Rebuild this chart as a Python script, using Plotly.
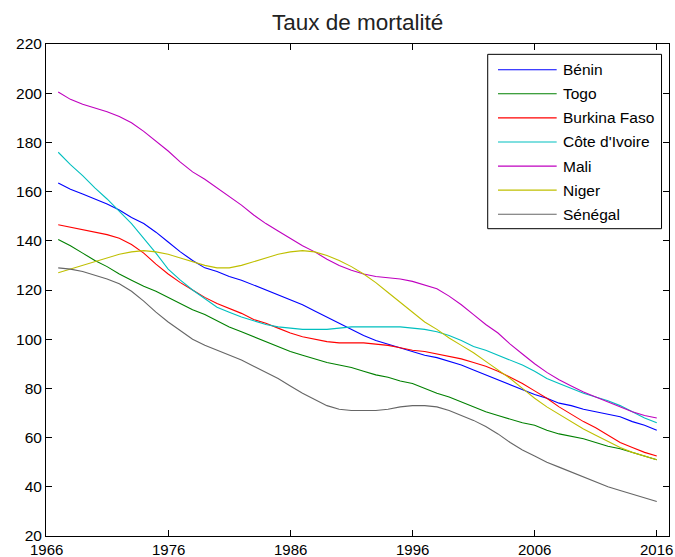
import plotly.graph_objects as go

years = list(range(1967, 2017))

benin = [163.5, 161, 159, 157, 155, 152.5, 149.5, 147, 143.5, 139.5,
         135.5, 132, 129, 127.5, 125.5, 124, 122, 120, 118, 116,
         114, 111.5, 109, 106.5, 104, 101.5, 99.5, 98, 96.5, 95,
         93.5, 92.5, 91, 89.5, 87.5, 85.5, 83.5, 81.5, 79.5, 77.5,
         76, 74, 73, 71.5, 70.5, 69.5, 68.5, 66.5, 65, 63]

togo = [140.5, 138, 135, 132, 129.5, 126.5, 124, 121.5, 119.5, 117,
        114.5, 112, 110, 107.5, 105, 103, 101, 99, 97, 95,
        93.5, 92, 90.5, 89.5, 88.5, 87, 85.5, 84.5, 83, 82,
        80, 78, 76.5, 74.5, 72.5, 70.5, 69, 67.5, 66, 65,
        63, 61.5, 60.5, 59.5, 58, 56.5, 55.5, 54, 52.5, 51]

burkina = [146.5, 145.5, 144.5, 143.5, 142.5, 141, 138.5, 135, 130.5, 126.5,
           123, 120, 117, 114.5, 112.5, 110.5, 108, 106.5, 104.5, 102.5,
           101, 100, 99, 98.5, 98.5, 98.5, 98, 97.5, 96.5, 95.5,
           95, 94, 93, 92, 90.5, 89, 87, 84.5, 82, 79,
           76, 72.5, 69.5, 66.5, 64, 61, 58, 56, 54, 52.5]

cote_ivoire = [176, 171, 166.5, 161.5, 157, 152, 147, 141, 135, 128.5,
               124, 120, 116.5, 113, 111, 109, 107.5, 106, 105, 104.5,
               104, 104, 104, 104.5, 105, 105, 105, 105, 105, 104.5,
               104, 103, 101.5, 99.5, 97, 95.5, 93.5, 91.5, 89.5, 87,
               84, 82, 80, 78, 76.5, 75, 73, 70.5, 68, 66]

mali = [200.5, 197.5, 195.5, 194, 192.5, 190.5, 188, 184.5, 180.5, 176.5,
        172, 168, 165, 161.5, 158, 154.5, 150.5, 147, 144, 141,
        138, 135.5, 132.5, 130, 128, 126.5, 125.5, 125, 124.5, 123.5,
        122, 120.5, 117.5, 114, 110, 106, 102.5, 98, 94, 90,
        86.5, 83.5, 81, 78.5, 76.5, 74.5, 72.5, 70.5, 69, 68]

niger = [127, 128.5, 130, 131.5, 133, 134.5, 135.5, 136, 135.5, 134.5,
         133, 131.5, 130, 129, 129, 130, 131.5, 133, 134.5, 135.5,
         136, 135.5, 134, 132, 129.5, 126.5, 123, 119, 115, 111,
         107, 104, 100.5, 97.5, 94.5, 91, 87.5, 84, 80, 76,
         72.5, 69.5, 66.5, 63.5, 61, 58.5, 56, 54, 52.5, 51]

senegal = [129, 128.5, 127.5, 126, 124.5, 122.5, 119.5, 115.5, 111, 107,
           103.5, 100, 97.5, 95.5, 93.5, 91.5, 89, 86.5, 84, 81,
           78, 75.5, 73, 71.5, 71, 71, 71, 71.5, 72.5, 73,
           73, 72.5, 71, 69, 67, 64.5, 61.5, 58, 55, 52.5,
           50, 48, 46, 44, 42, 40, 38.5, 37, 35.5, 34]

names = ["Bénin", "Togo", "Burkina Faso", "Côte d'Ivoire", "Mali", "Niger", "Sénégal"]
series = [benin, togo, burkina, cote_ivoire, mali, niger, senegal]
colors = ["#0000FF", "#008000", "#FF0000", "#00BFBF", "#BF00BF", "#BFBF00", "#666666"]

x_ticks = [1966, 1976, 1986, 1996, 2006, 2016]
y_ticks = [20, 40, 60, 80, 100, 120, 140, 160, 180, 200, 220]

FONT = "Liberation Sans, Arial, sans-serif"
TICK_SIZE = 15.5

fig = go.Figure()
for name, vals, col in zip(names, series, colors):
    fig.add_trace(go.Scatter(x=years, y=vals, mode="lines", name=name,
                             line=dict(color=col, width=1.1), showlegend=False))

# custom MATLAB-style legend box
lx0, lx1, ly0, ly1 = 0.709, 0.988, 0.6246, 0.979
shapes = [dict(type="rect", xref="paper", yref="paper", x0=lx0, x1=lx1, y0=ly0, y1=ly1,
               line=dict(color="black", width=1), fillcolor="white", layer="above")]
annotations = []
y_first, step = 0.9478, 0.04898
for i, (name, col) in enumerate(zip(names, colors)):
    yy = y_first - i * step
    shapes.append(dict(type="line", xref="paper", yref="paper", x0=0.7255, x1=0.8197,
                       y0=yy, y1=yy, line=dict(color=col, width=1.1), layer="above"))
    annotations.append(dict(xref="paper", yref="paper", x=0.8262, y=yy, text=name,
                            showarrow=False, xanchor="left", yanchor="middle",
                            font=dict(family=FONT, size=TICK_SIZE, color="black")))

# x tick labels placed just under the axis
for t in x_ticks:
    annotations.append(dict(xref="x", yref="paper", x=t, y=0, text=str(t),
                            showarrow=False, xanchor="center", yanchor="middle",
                            yshift=-13, font=dict(family=FONT, size=15, color="black")))

annotations.append(dict(xref="paper", yref="paper", x=0.5, y=1, yshift=22,
                        text="Taux de mortalité", showarrow=False,
                        xanchor="center", yanchor="middle",
                        font=dict(family=FONT, size=22.5, color="#222222")))

fig.update_layout(
    width=675, height=557,
    margin=dict(l=46, r=6, t=44, b=21, autoexpand=False),
    paper_bgcolor="white", plot_bgcolor="white",
    font=dict(family=FONT, size=TICK_SIZE, color="black"),
    shapes=shapes, annotations=annotations,
    xaxis=dict(range=[1966, 2017], tickmode="array", tickvals=x_ticks,
               showticklabels=False, automargin=False,
               showgrid=False, zeroline=False, showline=True, linecolor="black",
               linewidth=1, mirror="ticks", ticks="inside", ticklen=6,
               tickcolor="black"),
    yaxis=dict(range=[20, 220], tickmode="array", tickvals=y_ticks,
               ticktext=[str(t) for t in y_ticks], automargin=False,
               showgrid=False, zeroline=False, showline=True, linecolor="black",
               linewidth=1, mirror="ticks", ticks="inside", ticklen=6,
               tickcolor="black", tickfont=dict(family=FONT, size=TICK_SIZE, color="black")),
)

# remove the default page margin so the figure fills the window exactly
fig.write_html("out.html", config={"displayModeBar": False},
               post_script="document.body.style.margin='0';document.body.style.overflow='hidden';")
